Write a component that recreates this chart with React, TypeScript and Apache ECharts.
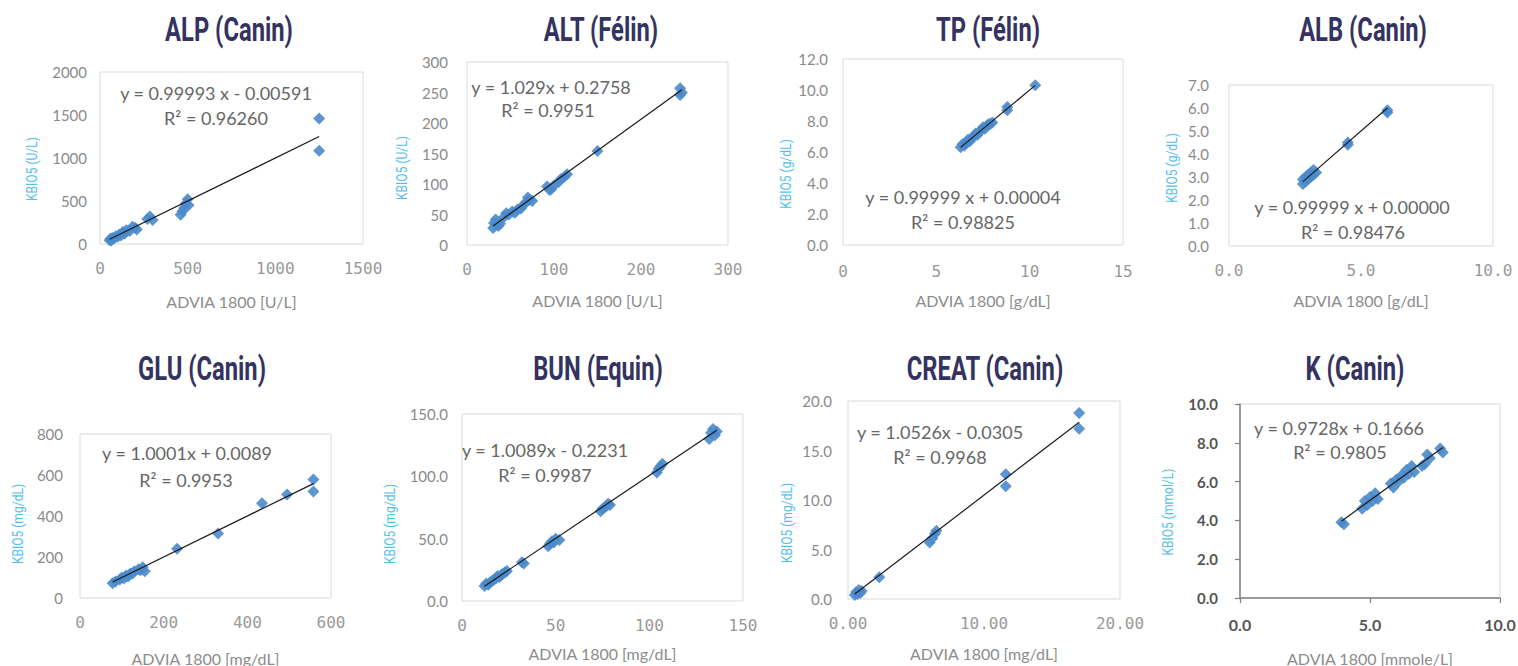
import React, { useEffect, useRef } from "react";
import * as echarts from "echarts";

// ---------- DATA ----------
const titles = ["ALP (Canin)", "ALT (Félin)", "TP (Félin)", "ALB (Canin)", "GLU (Canin)", "BUN (Equin)", "CREAT (Canin)", "K (Canin)"];
const xNames = ["ADVIA 1800 [U/L]", "ADVIA 1800 [U/L]", "ADVIA 1800 [g/dL]", "ADVIA 1800 [g/dL]", "ADVIA 1800 [mg/dL]", "ADVIA 1800 [mg/dL]", "ADVIA 1800 [mg/dL]", "ADVIA 1800 [mmole/L]"];
const yNames = ["KBIO5 (U/L)", "KBIO5 (U/L)", "KBIO5 (g/dL)", "KBIO5 (g/dL)", "KBIO5 (mg/dL)", "KBIO5 (mg/dL)", "KBIO5 (mg/dL)", "KBIO5 (mmol/L)"];
const equations = ["y = 0.99993 x - 0.00591", "y = 1.029x + 0.2758", "y = 0.99999 x + 0.00004", "y = 0.99999 x + 0.00000", "y = 1.0001x + 0.0089", "y = 1.0089x - 0.2231", "y = 1.0526x - 0.0305", "y = 0.9728x + 0.1666"];
const r2Labels = ["R² = 0.96260", "R² = 0.9951", "R² = 0.98825", "R² = 0.98476", "R² = 0.9953", "R² = 0.9987", "R² = 0.9968", "R² = 0.9805"];
const slopes = [0.99993, 1.029, 0.99999, 0.99999, 1.0001, 1.0089, 1.0526, 0.9728];
const intercepts = [-0.00591, 0.2758, 0.00004, 0.0, 0.0089, -0.2231, -0.0305, 0.1666];
const xMax = [1500, 300, 15, 10, 600, 150, 20, 10];
const xInterval = [500, 100, 5, 5, 200, 50, 10, 5];
const yMax = [2000, 300, 12, 7, 800, 150, 20, 10];
const yInterval = [500, 50, 2, 1, 200, 50, 5, 2];
const xDecimals = [0, 0, 0, 1, 0, 0, 2, 1];
const yDecimals = [0, 0, 1, 1, 0, 1, 1, 1];

const alpData = [[55, 45], [60, 60], [65, 40], [70, 70], [80, 65], [90, 90], [100, 85], [110, 110], [120, 100], [130, 140], [140, 120], [150, 160], [170, 150], [185, 200], [200, 190], [210, 170], [270, 290], [285, 320], [300, 280], [460, 340], [470, 380], [480, 420], [490, 470], [500, 520], [505, 450], [1250, 1460], [1250, 1085]];
const altData = [[30, 28], [31, 36], [33, 42], [36, 31], [38, 35], [42, 45], [45, 52], [48, 50], [52, 55], [55, 53], [58, 58], [62, 60], [65, 66], [68, 70], [70, 78], [72, 74], [75, 72], [92, 96], [95, 90], [97, 92], [100, 98], [105, 103], [108, 108], [112, 112], [115, 116], [150, 154], [245, 257], [245, 246], [247, 250]];
const tpData = [[6.3, 6.3], [6.4, 6.5], [6.5, 6.4], [6.6, 6.6], [6.7, 6.8], [6.8, 6.7], [6.9, 6.9], [7.0, 7.0], [7.1, 7.2], [7.2, 7.1], [7.3, 7.3], [7.4, 7.4], [7.5, 7.6], [7.6, 7.5], [7.7, 7.7], [7.8, 7.8], [7.9, 7.8], [8.0, 7.9], [8.8, 8.7], [8.8, 8.9], [10.3, 10.3]];
const albData = [[2.8, 2.7], [2.8, 2.9], [2.9, 2.8], [2.9, 3.0], [3.0, 2.9], [3.0, 3.1], [3.1, 3.0], [3.1, 3.2], [3.2, 3.1], [3.2, 3.3], [3.3, 3.2], [4.5, 4.5], [4.5, 4.4], [6.0, 5.8], [6.0, 5.9]];
const gluData = [[78, 72], [85, 80], [95, 90], [100, 100], [105, 95], [110, 110], [115, 105], [120, 120], [125, 118], [130, 130], [140, 140], [145, 135], [150, 150], [155, 130], [232, 240], [330, 315], [435, 462], [495, 505], [558, 578], [558, 520]];
const bunData = [[12, 12], [13, 14], [14, 13], [15, 15], [16, 16], [17, 17], [18, 18], [19, 20], [20, 19], [21, 21], [22, 22], [23, 23], [24, 24], [32, 31], [33, 30], [46, 44], [47, 46], [48, 48], [49, 47], [50, 50], [52, 49], [74, 72], [75, 74], [76, 75], [77, 76], [78, 78], [79, 77], [104, 103], [105, 106], [106, 108], [107, 110], [132, 130], [133, 135], [134, 138], [135, 133], [136, 136]];
const creatData = [[0.5, 0.4], [0.6, 0.7], [0.7, 0.5], [0.8, 0.9], [0.9, 0.6], [1.0, 0.8], [2.3, 2.2], [6.0, 5.7], [6.2, 6.1], [6.4, 6.6], [6.5, 6.9], [11.6, 12.6], [11.6, 11.4], [17.0, 18.8], [17.0, 17.2]];
const kData = [[3.9, 3.9], [4.0, 3.8], [4.7, 4.6], [4.8, 5.0], [4.9, 4.8], [5.0, 5.2], [5.1, 5.0], [5.2, 5.4], [5.3, 5.1], [5.8, 5.9], [5.9, 5.7], [6.0, 6.1], [6.1, 6.0], [6.2, 6.3], [6.3, 6.2], [6.4, 6.6], [6.5, 6.4], [6.6, 6.8], [6.7, 6.5], [7.0, 6.8], [7.1, 6.9], [7.2, 7.4], [7.3, 7.2], [7.7, 7.7], [7.8, 7.5]];
const panelData = [alpData, altData, tpData, albData, gluData, bunData, creatData, kData];

// ---------- LAYOUT ----------
const grids = [
  { left: 100, top: 72, width: 263, height: 172 },
  { left: 467, top: 62, width: 261, height: 183 },
  { left: 843, top: 59, width: 280, height: 186 },
  { left: 1229, top: 85, width: 264, height: 161 },
  { left: 80, top: 434, width: 251, height: 164 },
  { left: 462, top: 414, width: 281, height: 187 },
  { left: 848, top: 401, width: 272, height: 198 },
  { left: 1240, top: 404, width: 260, height: 194 },
];
const titlePos = [[229, 30], [601, 30], [988, 30], [1363, 30], [202, 369], [598, 369], [985, 369], [1355, 369]];
const yNamePos = [[32, 169], [402, 168], [786, 174], [1172, 168], [18, 524], [390, 524], [787, 523], [1168, 512]];
const eqPos = [[216, 93, 216, 118], [551, 87, 548, 110], [963, 197, 963, 222], [1352, 207, 1353, 232], [187, 453, 186, 480], [545, 450, 545, 475], [940, 432, 940, 457], [1339, 428, 1340, 452]];
const xNameGap = [49, 47, 47, 46, 52, 44, 46, 52];
const xLabelMargin = [16, 16, 18, 16, 16, 16, 16, 18];
const yLabelMargin = [13, 19, 15, 20, 17, 14, 16, 22];

export default function App() {
  const ref = useRef<HTMLDivElement>(null);
  useEffect(() => {
    if (!ref.current) return;
    const chart = echarts.init(ref.current, undefined, { renderer: "svg" });
    const xAxis: any[] = [];
    const yAxis: any[] = [];
    const series: any[] = [];
    const graphic: any[] = [];
    for (let i = 0; i < 8; i++) {
      const dark = i === 7;
      const xd = xDecimals[i];
      const yd = yDecimals[i];
      xAxis.push({
        type: "value",
        gridIndex: i,
        min: 0,
        max: xMax[i],
        interval: xInterval[i],
        axisLine: { show: dark, onZero: false, lineStyle: { color: "#7f7f7f", width: 1.5 } },
        axisTick: { show: dark, length: 5, lineStyle: { color: "#7f7f7f", width: 1.2 } },
        splitLine: { show: false },
        axisLabel: {
          margin: xLabelMargin[i],
          fontFamily: dark ? "Lato" : "DejaVu Sans Mono",
          fontSize: 16,
          fontWeight: dark ? "bold" : "normal",
          color: dark ? "#555555" : "#999999",
          showMinLabel: true,
          showMaxLabel: true,
          formatter: (v: number) => v.toFixed(xd),
        },
        name: xNames[i],
        nameLocation: "middle",
        nameGap: xNameGap[i],
        nameTextStyle: { fontFamily: "Lato", fontSize: 16, color: "#8c8c8c" },
      });
      yAxis.push({
        type: "value",
        gridIndex: i,
        min: 0,
        max: yMax[i],
        interval: yInterval[i],
        axisLine: { show: dark, onZero: false, lineStyle: { color: "#7f7f7f", width: 1.5 } },
        axisTick: { show: dark, length: 5, lineStyle: { color: "#7f7f7f", width: 1.2 } },
        splitLine: { show: false },
        axisLabel: {
          margin: yLabelMargin[i],
          fontFamily: "Lato",
          fontSize: 15,
          fontWeight: dark ? "bold" : "normal",
          color: dark ? "#555555" : "#8a8a8a",
          showMinLabel: true,
          showMaxLabel: true,
          formatter: (v: number) => v.toFixed(yd),
        },
      });
      const pts = panelData[i];
      const xs = pts.map((p) => p[0]);
      const x0 = Math.min(...xs);
      const x1 = Math.max(...xs);
      series.push({
        type: "scatter",
        name: titles[i],
        xAxisIndex: i,
        yAxisIndex: i,
        data: pts,
        symbol: "diamond",
        symbolSize: 12,
        itemStyle: { color: "#4a89cb", opacity: 0.9 },
        z: 2,
      });
      series.push({
        type: "line",
        name: titles[i] + " trend",
        xAxisIndex: i,
        yAxisIndex: i,
        data: [
          [x0, slopes[i] * x0 + intercepts[i]],
          [x1, slopes[i] * x1 + intercepts[i]],
        ],
        showSymbol: false,
        symbol: "none",
        lineStyle: { color: "#1a1a1a", width: 1.2 },
        z: 3,
      });
      graphic.push({
        type: "text",
        x: titlePos[i][0],
        y: titlePos[i][1],
        scaleX: 0.72,
        style: {
          text: titles[i],
          fontFamily: "Roboto",
          fontSize: 33,
          fontWeight: "bold",
          fill: "#34335f",
          align: "center",
          verticalAlign: "middle",
          textAlign: "center",
          textVerticalAlign: "middle",
        },
      });
      graphic.push({
        type: "text",
        x: yNamePos[i][0],
        y: yNamePos[i][1],
        rotation: Math.PI / 2,
        scaleX: 0.86,
        style: {
          text: yNames[i],
          fontFamily: "Roboto",
          fontSize: 14,
          fill: "#55c0ee",
          align: "center",
          verticalAlign: "middle",
          textAlign: "center",
          textVerticalAlign: "middle",
        },
      });
      const e = eqPos[i];
      graphic.push({
        type: "text",
        x: e[0],
        y: e[1],
        z: 10,
        style: {
          text: equations[i],
          fontFamily: "Lato",
          fontSize: 18,
          fill: "#666666",
          align: "center",
          verticalAlign: "middle",
          textAlign: "center",
          textVerticalAlign: "middle",
        },
      });
      graphic.push({
        type: "text",
        x: e[2],
        y: e[3],
        z: 10,
        style: {
          text: r2Labels[i],
          fontFamily: "Lato",
          fontSize: 18,
          fill: "#666666",
          align: "center",
          verticalAlign: "middle",
          textAlign: "center",
          textVerticalAlign: "middle",
        },
      });
    }
    chart.setOption({
      animation: false,
      backgroundColor: "#ffffff",
      grid: grids.map((g) => ({
        ...g,
        containLabel: false,
        outerBoundsMode: "none",
        show: true,
        borderColor: "#d9d9d9",
        borderWidth: 1,
        backgroundColor: "transparent",
      })),
      xAxis,
      yAxis,
      series,
      graphic,
    });
    return () => chart.dispose();
  }, []);
  return (
    <div
      ref={ref}
      style={{ position: "fixed", left: 0, top: 0, width: 1518, height: 666 }}
    />
  );
}
